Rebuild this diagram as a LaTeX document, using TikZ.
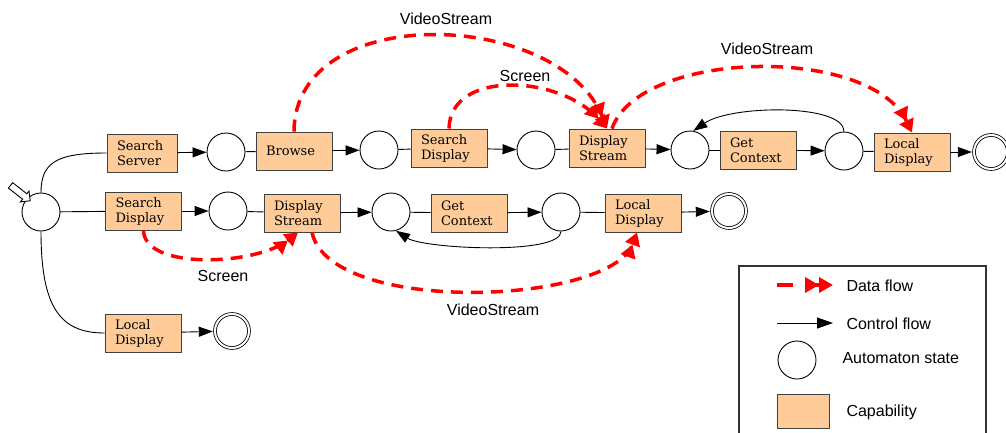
\documentclass[tikz,border=0pt]{standalone}
\usepackage{fontspec}
\setmainfont{Liberation Sans}
\newfontfamily\boxfont{DejaVu Serif}
\usetikzlibrary{arrows.meta,shapes.arrows}
\definecolor{peach}{HTML}{FFCC99}
\begin{document}
\begin{tikzpicture}[x=1pt,y=-1pt,
 capbox/.style={rectangle,draw=black!75,fill=peach,line width=0.9pt,minimum height=38pt,text width=56pt,inner xsep=10pt,align=left,font=\boxfont\fontsize{13}{15}\selectfont},
 autstate/.style={circle,draw,line width=0.9pt,minimum size=38pt,inner sep=0pt},
 finalstate/.style={circle,draw,line width=0.8pt,double,double distance=2pt,minimum size=34pt,inner sep=0pt},
 ctrl/.style={line width=0.9pt,-{Triangle[length=14pt,width=10pt]}},
 plain/.style={line width=0.9pt},
 data/.style={red,line width=3.5pt,dash pattern=on 12pt off 8pt,-{Triangle[length=13pt,width=15pt]Triangle[length=13pt,width=15pt]}},
 lbl/.style={font=\fontsize{16}{19}\selectfont},
 lgtext/.style={font=\fontsize{16}{19}\selectfont,anchor=west}]
\useasboundingbox (0,0) rectangle (1006,432);

% row 1
\node[capbox,text width=50pt] (ss) at (142,153) {Search\\Server};
\node[autstate] (c1) at (226,152) {};
\node[capbox] (br) at (294,151) {Browse};
\node[autstate] (c2) at (379,150) {};
\node[capbox] (sd) at (449,148) {Search\\Display};
\node[autstate] (c3) at (536,150) {};
\node[capbox] (ds) at (607,148) {Display\\Stream};
\node[autstate] (c4) at (690,150) {};
\node[capbox] (gc) at (758,150) {Get\\Context};
\node[autstate] (c5) at (844,151) {};
\node[capbox] (ld) at (912,152) {Local\\Display};
\node[finalstate] (f1) at (991,152) {};

% row 2
\node[autstate] (s0) at (41,212) {};
\node[capbox] (sd2) at (143.5,211) {Search\\Display};
\node[autstate] (d1) at (228,211) {};
\node[capbox] (ds2) at (302,213) {Display\\Stream};
\node[autstate] (d2) at (391,212) {};
\node[capbox] (gc2) at (469,213) {Get\\Context};
\node[autstate] (d3) at (561,212) {};
\node[capbox] (ld2) at (643,213) {Local\\Display};
\node[finalstate] (f2) at (729,211) {};

% row 3
\node[capbox] (ld3) at (143,333) {Local\\Display};
\node[finalstate] (f3) at (232,331) {};

% initial arrow
\node[single arrow,draw,fill=white,line width=0.9pt,minimum height=25pt,minimum width=13pt,single arrow head extend=3.5pt,inner sep=3pt,rotate=-38] (init) at (19,192) {};

% start edges
\draw[plain] (s0.north) .. controls +(0,-30) and +(-50,0) .. (ss.west);
\draw[plain] (s0) -- (sd2);
\draw[plain] (s0.south) .. controls +(0,75) and +(-45,0) .. (ld3.west);

% row 1 edges
\draw[ctrl] (ss) -- (c1);
\draw[plain] (c1) -- (br);
\draw[ctrl] (br) -- (c2);
\draw[plain] (c2) -- (sd);
\draw[ctrl] (sd) -- (c3);
\draw[plain] (c3) -- (ds);
\draw[ctrl] (ds) -- (c4);
\draw[plain] (c4) -- (gc);
\draw[ctrl] (gc) -- (c5);
\draw[plain] (c5) -- (ld);
\draw[ctrl,shorten >=1.8pt] (ld) -- (f1);
\draw[ctrl] (c5.north) .. controls +(0,-28) and +(38,-26) .. (c4.80);

% row 2 edges
\draw[ctrl] (sd2) -- (d1);
\draw[plain] (d1) -- (ds2);
\draw[ctrl] (ds2) -- (d2);
\draw[plain] (d2) -- (gc2);
\draw[ctrl] (gc2) -- (d3);
\draw[plain] (d3) -- (ld2);
\draw[ctrl,shorten >=1.8pt] (ld2) -- (f2);
\draw[ctrl] (d3.south) .. controls +(0,24) and +(28,18) .. (d2.-75);

% row 3 edges
\draw[ctrl,shorten >=1.8pt] (ld3) -- (f3);

% data flows
\draw[data] (br.north) .. controls +(1,-132) and +(-47,-119) .. (ds.north);
\draw[data] (sd.north) .. controls +(1,-59) and +(-47,-54) .. (ds.north);
\draw[data] ([xshift=5pt]ds.north) .. controls +(28,-79) and +(-42,-88) .. (ld.north);
\draw[data] (sd2.south) .. controls +(1,40) and +(-42,33) .. ([xshift=-4pt]ds2.south);
\draw[data] ([xshift=10pt]ds2.south) .. controls +(18,83) and +(-27,73) .. ([xshift=-6pt]ld2.south);

% labels
\node[lbl] (l1) at (446,19) {VideoStream};
\node[lbl] (l2) at (525,76) {Screen};
\node[lbl] (l3) at (767,49) {VideoStream};
\node[lbl] (l4) at (223,276) {Screen};
\node[lbl] (l5) at (493,310) {VideoStream};

% legend
\draw[black!80,line width=1.2pt] (739,436) -- (739,266) -- (986,266) -- (986,436);
\coordinate (la1) at (777,285);
\coordinate (la2) at (833,285);
\draw[red,line width=3.5pt,dash pattern=on 16pt off 12pt,-{Triangle[length=14pt,width=15pt]Triangle[length=14pt,width=15pt]}] (la1) -- (la2);
\node[lgtext] (t1) at (843,286) {Data flow};
\coordinate (lb1) at (777,323);
\coordinate (lb2) at (833,323);
\draw[line width=0.9pt,-{Triangle[length=16pt,width=11pt]}] (lb1) -- (lb2);
\node[lgtext] (t2) at (843,324) {Control flow};
\node[autstate] (lc) at (797,360) {};
\node[lgtext] (t3) at (839,358) {Automaton state};
\node[rectangle,draw=black!75,fill=peach,line width=0.9pt,minimum width=52pt,minimum height=34pt] (lr) at (803,411) {};
\node[lgtext] (t4) at (843,412) {Capability};
\end{tikzpicture}
\end{document}
